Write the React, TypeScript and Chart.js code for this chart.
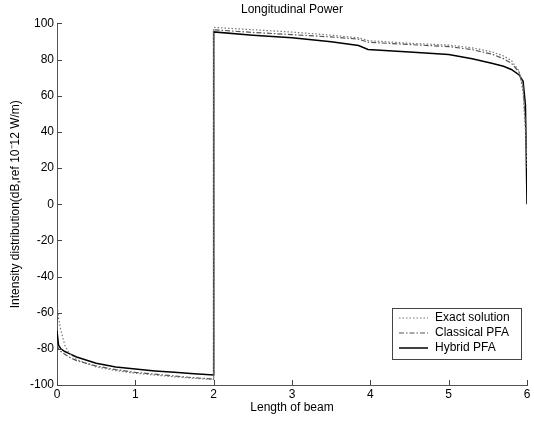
import React, { useEffect, useRef } from "react";
import { Chart, registerables } from "chart.js";

Chart.register(...registerables);

const titleText = "Longitudinal Power";
const xAxisLabel = "Length of beam";
const yAxisLabel = "Intensity distribution(dB,ref 10\u207B12 W/m)";

const xTicks = [0, 1, 2, 3, 4, 5, 6];
const yTicks = [-100, -80, -60, -40, -20, 0, 20, 40, 60, 80, 100];

const xPositions = [
  0, 0.02, 0.05, 0.1, 0.15, 0.25, 0.5, 0.75, 1.0, 1.25, 1.5, 1.75, 2.0, 2.0,
  2.5, 3.0, 3.5, 3.85, 3.97, 4.5, 5.0, 5.3, 5.55, 5.7, 5.8, 5.9, 5.95, 5.98, 6.0,
];

const exactSolution = [
  -55, -63, -70, -78, -82, -86, -90, -92, -93.5, -94.5, -95.5, -96.3, -97, 97.8,
  96.5, 95.2, 93.5, 92, 90.5, 89, 88, 86.5, 84.3, 82, 79.5, 73.5, 62, 40, 20,
];

const classicalPFA = [
  -78, -80, -81.5, -83, -84.5, -86.5, -89.5, -91.5, -93, -94, -95, -96, -96.7,
  96.5, 95, 93.8, 92.5, 91.3, 89.6, 88.3, 87.2, 85.5, 83, 80.5, 78, 73, 65, 45, 25,
];

const hybridPFA = [
  -70, -78, -80, -81.5, -82.5, -84.5, -88, -90, -91.2, -92.2, -93, -93.8, -94.5,
  95.3, 93.5, 92, 89.8, 87.8, 85.6, 84.2, 82.8, 80.5, 78, 76.3, 74.5, 71.5, 68, 55, 0,
];

const seriesNames = ["Exact solution", "Classical PFA", "Hybrid PFA"];
const seriesValues = [exactSolution, classicalPFA, hybridPFA];
const seriesColors = ["#777777", "#555555", "#000000"];
const seriesDashes: number[][] = [[1.5, 2], [5, 2, 1.5, 2], []];
const seriesWidths = [1.2, 1.2, 1.5];

const FONT = "'Liberation Sans', Arial, sans-serif";

const inwardTicks = {
  id: "inwardTicks",
  afterDraw(chart: any) {
    const { ctx, chartArea } = chart;
    const xs = chart.scales.x;
    const ys = chart.scales.y;
    ctx.save();
    ctx.strokeStyle = "#444";
    ctx.lineWidth = 1;
    ctx.setLineDash([]);
    ctx.beginPath();
    xTicks.forEach((v) => {
      const px = Math.round(xs.getPixelForValue(v)) + 0.5;
      ctx.moveTo(px, chartArea.bottom);
      ctx.lineTo(px, chartArea.bottom - 5);
    });
    yTicks.forEach((v) => {
      const py = Math.round(ys.getPixelForValue(v)) + 0.5;
      ctx.moveTo(chartArea.left, py);
      ctx.lineTo(chartArea.left + 5, py);
    });
    ctx.stroke();
    ctx.restore();
  },
};

const insideLegend = {
  id: "insideLegend",
  afterDraw(chart: any) {
    const { ctx, chartArea } = chart;
    const w = 129;
    const h = 51;
    const x0 = chartArea.right - 6 - w;
    const y0 = chartArea.bottom - 26 - h;
    ctx.save();
    ctx.fillStyle = "#fff";
    ctx.fillRect(x0, y0, w, h);
    ctx.strokeStyle = "#444";
    ctx.lineWidth = 1;
    ctx.setLineDash([]);
    ctx.strokeRect(Math.round(x0) + 0.5, Math.round(y0) + 0.5, w, h);
    ctx.font = `12px ${FONT}`;
    ctx.textBaseline = "middle";
    ctx.textAlign = "left";
    seriesNames.forEach((name, i) => {
      const cy = y0 + 10 + i * 15;
      ctx.strokeStyle = seriesColors[i];
      ctx.lineWidth = seriesWidths[i];
      ctx.setLineDash(seriesDashes[i]);
      ctx.beginPath();
      ctx.moveTo(x0 + 7, cy);
      ctx.lineTo(x0 + 36, cy);
      ctx.stroke();
      ctx.fillStyle = "#000";
      ctx.fillText(name, x0 + 43, cy);
    });
    ctx.restore();
  },
};

export default function App() {
  const canvasRef = useRef<HTMLCanvasElement | null>(null);

  useEffect(() => {
    if (!canvasRef.current) return;
    const datasets = seriesValues.map((vals, i) => ({
      label: seriesNames[i],
      data: xPositions.map((x, j) => ({ x, y: vals[j] })),
      borderColor: seriesColors[i],
      borderWidth: seriesWidths[i],
      borderDash: seriesDashes[i],
      pointRadius: 0,
      fill: false,
      tension: 0,
    }));

    const chart = new Chart(canvasRef.current, {
      type: "line",
      data: { datasets },
      plugins: [inwardTicks, insideLegend],
      options: {
        animation: false,
        responsive: true,
        maintainAspectRatio: false,
        layout: { padding: { left: 0, right: 7, top: 0, bottom: 0 } },
        plugins: {
          legend: { display: false },
          tooltip: { enabled: false },
          title: {
            display: true,
            text: titleText,
            color: "#000",
            font: { family: FONT, size: 12, weight: "normal" },
            padding: { top: 2, bottom: 7 },
            fullSize: false,
          },
        },
        scales: {
          x: {
            type: "linear",
            min: 0,
            max: 6,
            afterBuildTicks: (s: any) => {
              s.ticks = xTicks.map((v) => ({ value: v }));
            },
            afterFit: (s: any) => {
              s.height = 36;
            },
            ticks: {
              color: "#000",
              font: { family: FONT, size: 12 },
              padding: 2,
              maxRotation: 0,
              autoSkip: false,
            },
            grid: { display: false, drawTicks: false },
            border: { display: true, color: "#555", width: 1 },
            title: {
              display: true,
              text: xAxisLabel,
              color: "#000",
              font: { family: FONT, size: 12 },
              padding: { top: 0, bottom: 6 },
            },
          },
          y: {
            type: "linear",
            min: -100,
            max: 100,
            afterBuildTicks: (s: any) => {
              s.ticks = yTicks.map((v) => ({ value: v }));
            },
            afterFit: (s: any) => {
              s.width = 57;
            },
            ticks: {
              color: "#000",
              font: { family: FONT, size: 12 },
              padding: 3,
              autoSkip: false,
            },
            grid: { display: false, drawTicks: false },
            border: { display: true, color: "#555", width: 1 },
            title: {
              display: true,
              text: yAxisLabel,
              color: "#000",
              font: { family: FONT, size: 12 },
              padding: { top: 8, bottom: 0 },
            },
          },
        },
      },
    });
    return () => chart.destroy();
  }, []);

  return (
    <div style={{ position: "absolute", left: 0, top: 0, width: 534, height: 421, background: "#fff" }}>
      <canvas ref={canvasRef} />
    </div>
  );
}
